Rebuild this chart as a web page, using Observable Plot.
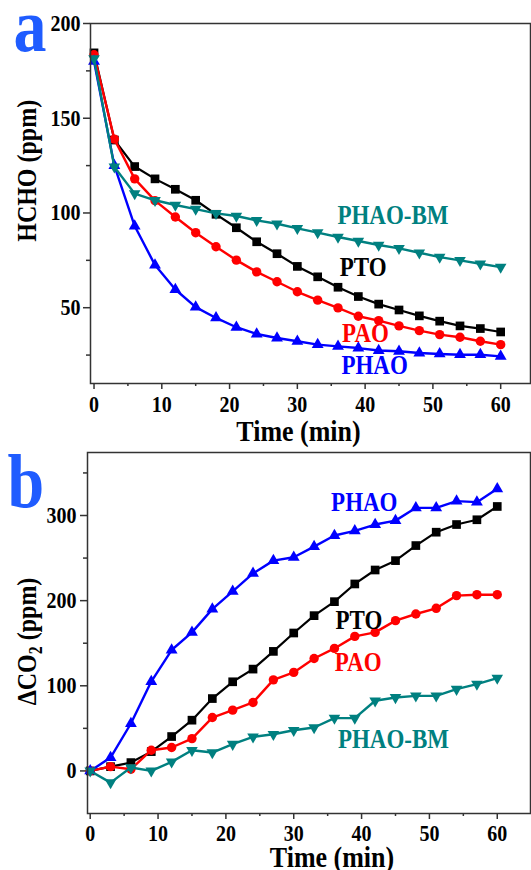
<!DOCTYPE html>
<html>
<head>
<meta charset="utf-8">
<script src="https://cdn.jsdelivr.net/npm/d3@7"></script>
<script src="https://cdn.jsdelivr.net/npm/@observablehq/plot@0.6"></script>
<style>
  html, body { margin: 0; padding: 0; background: #fff; overflow: hidden; }
  #wrap { width: 531px; height: 870px; }
  #wrap svg { display: block; font-family: "Liberation Serif", "Times New Roman", serif; }
  #wrap svg text { font-family: "Liberation Serif", "Times New Roman", serif; font-weight: bold; }
</style>
</head>
<body>
<div id="wrap"></div>
<script>
// ---------- data ----------
const times = [0, 3, 6, 9, 12, 15, 18, 21, 24, 27, 30, 33, 36, 39, 42, 45, 48, 51, 54, 57, 60];
const seriesNames = ["PTO", "PAO", "PHAO", "PHAO-BM"];

// panel a: HCHO (ppm)
const hchoPTO  = [184.5, 138.5, 124.5, 118, 112.5, 106.7, 99.3, 92.2, 84.8, 78.5, 71.8, 66.3, 60.8, 55.9, 51.9, 48.8, 45.7, 42.9, 40.4, 39, 37.2];
const hchoPAO  = [183.5, 139, 118, 106.5, 97.9, 89.6, 82.2, 75.1, 68.9, 63.7, 58.4, 54, 49.9, 45.5, 43.2, 40.4, 37.9, 35.8, 34.4, 32.3, 30.5];
const hchoPHAO = [180, 125, 93.1, 72.5, 59.6, 50.3, 44.6, 39.7, 36.1, 34, 32.3, 30.5, 29.6, 28.7, 27.4, 27, 26.1, 25.6, 25.2, 25.2, 24.3];
const hchoBM   = [181.5, 124.3, 110.2, 106.7, 104.2, 102, 99.8, 98.4, 96.1, 94.3, 91.9, 89.6, 87.3, 85.2, 83.1, 81.3, 79, 76.7, 75, 73.2, 71.4];

// panel b: delta CO2 (ppm)
const co2PTO  = [0, 5, 9.8, 22.7, 40.4, 59.6, 85, 104.7, 119.6, 140.4, 162, 182.4, 198.8, 219.6, 236, 247, 264.7, 280.4, 289.4, 295, 310.6];
const co2PAO  = [0, 5, 2, 24.3, 27.5, 38, 62.7, 71.4, 80.4, 107, 115.7, 132, 143.9, 158, 162.7, 176.5, 184.3, 191, 205.9, 207, 207];
const co2PHAO = [0, 15.7, 55.7, 105, 142, 162.7, 190, 211, 232, 247, 251, 263.5, 276.5, 282, 289.4, 294, 309, 309, 316.9, 315.7, 331.4];
const co2BM   = [0, -13.7, 4, 0, 10.6, 24.3, 21.6, 31.4, 40, 43.1, 47.8, 51, 62, 62, 82.4, 86.3, 88.2, 88.2, 96, 102, 109];

// ticks
const xTicks = [0, 10, 20, 30, 40, 50, 60];
const xMinor = [5, 15, 25, 35, 45, 55];
const yTicksA = [50, 100, 150, 200];
const yMinorA = [25, 75, 125, 175];
const yTicksB = [0, 100, 200, 300];
const yMinorB = [50, 150, 250, 350];

// in-plot series labels (data coordinates)
const labelsA = [
  {name: "PHAO-BM", t: 44.1, v: 98.6},
  {name: "PTO", t: 39.7, v: 71.1},
  {name: "PAO", t: 40.05, v: 36.6},
  {name: "PHAO", t: 41.4, v: 19.6}
];
const labelsB = [
  {name: "PHAO", t: 40.4, v: 314.7},
  {name: "PTO", t: 39.6, v: 176.2},
  {name: "PAO", t: 39.5, v: 126.8},
  {name: "PHAO-BM", t: 44.7, v: 36.8}
];

// ---------- styles ----------
const sqrt3 = Math.sqrt(3);
const triUp = {draw(ctx, size) {
  const y = -Math.sqrt(size / (sqrt3 * 3));
  ctx.moveTo(0, y * 2); ctx.lineTo(-sqrt3 * y, -y); ctx.lineTo(sqrt3 * y, -y); ctx.closePath();
}};
const triDown = {draw(ctx, size) {
  const y = -Math.sqrt(size / (sqrt3 * 3));
  ctx.moveTo(0, -y * 2); ctx.lineTo(-sqrt3 * y, y); ctx.lineTo(sqrt3 * y, y); ctx.closePath();
}};
const style = {
  "PTO":     {color: "#000000", symbol: "square", r: 4.9, sw: 2.2},
  "PAO":     {color: "#ff0000", symbol: "circle", r: 4.7, sw: 2.4},
  "PHAO":    {color: "#0000ff", symbol: triUp,    r: 4.4, sw: 2.4},
  "PHAO-BM": {color: "#008080", symbol: triDown,  r: 4.3, sw: 2.4}
};
const FONT = "Liberation Serif";
const AXC = "#333";

function rows(valuesList) {
  return seriesNames.flatMap((name, k) => times.map((t, i) => ({name, t, v: valuesList[k][i]})));
}
const dataA = rows([hchoPTO, hchoPAO, hchoPHAO, hchoBM]);
const dataB = rows([co2PTO, co2PAO, co2PHAO, co2BM]);

function seriesMarks(data) {
  return seriesNames.flatMap(name => {
    const s = style[name];
    const d = data.filter(r => r.name === name);
    return [
      Plot.line(d, {x: "t", y: "v", stroke: s.color, strokeWidth: s.sw}),
      Plot.dot(d, {x: "t", y: "v", symbol: s.symbol, r: s.r, fill: s.color, stroke: "none"})
    ];
  });
}
function labelMarks(labels) {
  return labels.map(l => Plot.text([l], {x: "t", y: "v", text: "name", fill: style[l.name].color,
    fontFamily: FONT, fontSize: 23, fontWeight: "bold", textAnchor: "middle", lineAnchor: "middle"}));
}
function axes(xt, xm, yt, ym, xpad, ypad) {
  return [
    Plot.axisX(xt, {tickSize: 6, tickPadding: xpad, label: null, fontFamily: FONT, fontSize: 20, fontWeight: "bold", color: "#000", stroke: AXC, strokeWidth: 1.5}),
    Plot.axisX(xm, {tickSize: 3, tickFormat: () => "", label: null, stroke: AXC, strokeWidth: 1.5}),
    Plot.axisY(yt, {tickSize: 7, tickPadding: ypad, label: null, fontFamily: FONT, fontSize: 20, fontWeight: "bold", color: "#000", stroke: AXC, strokeWidth: 1.5}),
    Plot.axisY(ym, {tickSize: 4, tickFormat: () => "", label: null, stroke: AXC, strokeWidth: 1.5})
  ];
}

function stretch(svg, k) {
  svg.querySelectorAll("text").forEach(t => {
    const tr = t.getAttribute("transform");
    if (tr) t.setAttribute("transform", tr + ` scale(1,${k})`);
  });
}

// ---------- panel a ----------
const plotA = Plot.plot({
  width: 531, height: 435,
  marginTop: 23, marginBottom: 52, marginLeft: 90, marginRight: 1,
  style: {fontFamily: FONT, fontWeight: "bold", fontSize: "20px", background: "white", overflow: "visible"},
  x: {domain: [-0.52, 64.4]},
  y: {domain: [10, 200]},
  marks: [
    ...axes(xTicks, xMinor, yTicksA, yMinorA, 6, 3),
    ...seriesMarks(dataA),
    ...labelMarks(labelsA),
    Plot.text(["Time (min)"], {frameAnchor: "bottom", text: d => d, dx: -12, dy: 47.5, fontFamily: FONT, fontSize: 26, fontWeight: "bold", textAnchor: "middle", lineAnchor: "middle"}),
    Plot.text(["HCHO (ppm)"], {frameAnchor: "left", text: d => d, rotate: -90, dx: -63, dy: -32.7, fontFamily: FONT, fontSize: 24, fontWeight: "bold", textAnchor: "middle", lineAnchor: "middle"}),
    Plot.text(["a"], {frameAnchor: "top-left", text: d => d, dx: -77, dy: 27.3, fontFamily: FONT, fontSize: 66, fontWeight: "bold", fill: "#1f5cff", textAnchor: "start", lineAnchor: "bottom"}),
    Plot.frame({stroke: AXC, strokeWidth: 1.5})
  ]
});

// ---------- panel b ----------
const plotB = Plot.plot({
  width: 531, height: 435,
  marginTop: 17, marginBottom: 57, marginLeft: 87, marginRight: 1,
  style: {fontFamily: FONT, fontWeight: "bold", fontSize: "20px", background: "white", overflow: "visible"},
  x: {domain: [-0.4, 64.9]},
  y: {domain: [-50, 374]},
  marks: [
    ...axes(xTicks, xMinor, yTicksB, yMinorB, 5, 4),
    ...seriesMarks(dataB),
    ...labelMarks(labelsB),
    Plot.text(["Time (min)"], {frameAnchor: "bottom", text: d => d, dx: 23, dy: 43.5, fontFamily: FONT, fontSize: 26, fontWeight: "bold", textAnchor: "middle", lineAnchor: "middle"}),
    Plot.text(["ΔCO2 (ppm)"], {frameAnchor: "left", text: d => d, rotate: -90, dx: -60, dy: 8.5, fontFamily: FONT, fontSize: 24, fontWeight: "bold", textAnchor: "middle", lineAnchor: "middle"}),
    Plot.text(["b"], {frameAnchor: "top-left", text: d => d, dx: -80, dy: 54.7, fontFamily: FONT, fontSize: 66, fontWeight: "bold", fill: "#1f5cff", textAnchor: "start", lineAnchor: "bottom"}),
    Plot.frame({stroke: AXC, strokeWidth: 1.5})
  ]
});

// subscript for CO2
plotB.querySelectorAll("text").forEach(t => {
  if (t.textContent === "ΔCO2 (ppm)") {
    t.textContent = "";
    const ns = "http://www.w3.org/2000/svg";
    const a = document.createElementNS(ns, "tspan"); a.textContent = "ΔCO";
    const b = document.createElementNS(ns, "tspan"); b.textContent = "2";
    b.setAttribute("font-size", "16"); b.setAttribute("dy", "5");
    const c = document.createElementNS(ns, "tspan"); c.textContent = " (ppm)"; c.setAttribute("dy", "-5");
    t.append(a, b, c);
  }
});

stretch(plotA, 1.15);
stretch(plotB, 1.15);
plotA.setAttribute("font-family", FONT);
plotB.setAttribute("font-family", FONT);

const wrap = document.getElementById("wrap");
wrap.append(plotA, plotB);
</script>
</body>
</html>
